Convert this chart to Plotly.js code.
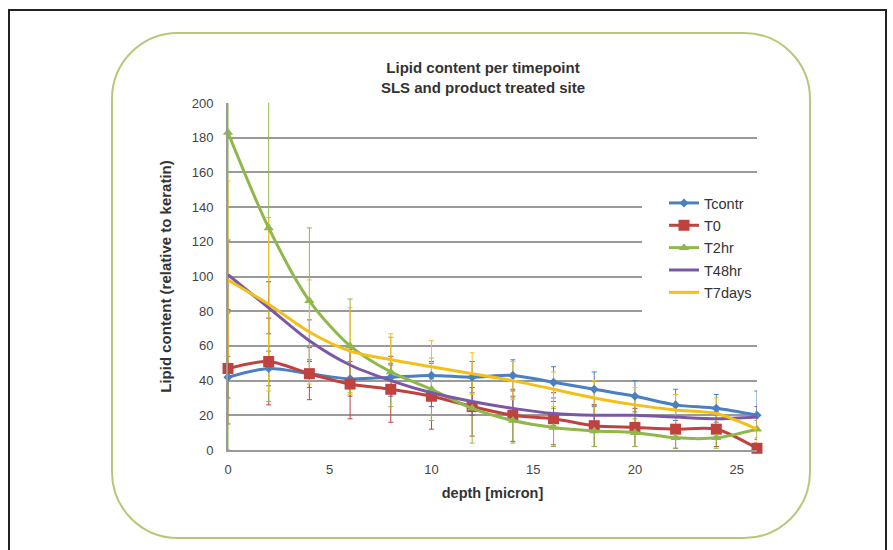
<!DOCTYPE html>
<html><head><meta charset="utf-8">
<script src="https://cdn.plot.ly/plotly-3.0.1.min.js"></script>
<style>html,body{margin:0;padding:0;background:#fff}#chart{width:893px;height:550px}</style>
</head><body><div id="chart"></div>
<script>
// ---- data ----
const depth = [0, 2, 4, 6, 8, 10, 12, 14, 16, 18, 20, 22, 24, 26];
const seriesNames = ['Tcontr', 'T0', 'T2hr', 'T48hr', 'T7days'];
const tcontr    = [42, 47, 44, 41, 42, 43, 42, 43, 39, 35, 31, 26, 24, 20];
const tcontrErr = [12, 10, 8, 10, 8, 8, 9, 9, 9, 10, 9, 9, 8, 14];
const t0        = [47, 51, 44, 38, 35, 31, 25, 20, 18, 14, 13, 12, 12, 1];
const t0Err     = [32, 25, 15, 20, 19, 19, 17, 15, 15, 12, 11, 11, 10, 3];
const t2hr      = [183, 128, 86, 60, 45, 35, 24, 17, 13, 11, 10, 7, 7, 12];
const t2hrErr   = [183, 100, 42, 27, 20, 18, 20, 13, 11, 9, 8, 6, 6, 5];
const t48hr     = [101, 82, 63, 49, 40, 33, 28, 24, 21, 20, 20, 19, 18, 19];
const t48hrErr  = [20, 15, 12, 10, 9, 8, 8, 7, 7, 6, 6, 6, 6, 6];
const t7days    = [98, 84, 68, 57, 52, 48, 44, 40, 35, 30, 26, 23, 21, 12];
const t7daysErr = [57, 50, 30, 25, 15, 15, 12, 11, 10, 10, 10, 9, 9, 10];
const yTicks = [0, 20, 40, 60, 80, 100, 120, 140, 160, 180, 200];
const xTicks = [0, 5, 10, 15, 20, 25];

// ---- styles ----
const FONT = 'Liberation Sans, Arial, sans-serif';
const values = [tcontr, t0, t2hr, t48hr, t7days];
const errs = [tcontrErr, t0Err, t2hrErr, t48hrErr, t7daysErr];
const colors = ['#4a7fc1', '#c0423f', '#8fb84a', '#7a58a6', '#f3c01a'];
const symbols = ['diamond', 'square', 'triangle-up', null, null];
const msizes = [7, 11, 9, 0, 0];

const traces = [];
// error bars (clipped to plot area)
for (let i = 0; i < 5; i++) {
  traces.push({
    x: depth, y: values[i], type: 'scatter', mode: 'markers',
    marker: {color: 'rgba(0,0,0,0)', size: 1},
    error_y: {type: 'data', array: errs[i], visible: true, color: colors[i], thickness: 1, width: 2.5},
    showlegend: false, hoverinfo: 'skip'
  });
}
// lines + markers
for (let i = 0; i < 5; i++) {
  const t = {
    x: depth, y: values[i], type: 'scatter', name: seriesNames[i],
    mode: symbols[i] ? 'lines+markers' : 'lines',
    line: {color: colors[i], width: 3, shape: 'spline', smoothing: 0.8},
    cliponaxis: false, legendgroup: 'g' + i
  };
  if (symbols[i]) t.marker = {symbol: symbols[i], size: msizes[i], color: colors[i]};
  traces.push(t);
}

// pixel -> paper helpers for decorative frames
const L = 228, R = 136, T = 103, B = 100, W = 893, H = 550;
const PW = W - L - R, PH = H - T - B;
const px = v => (v - L) / PW;
const py = v => (H - B - v) / PH;
function roundRect(x0, y0, x1, y1, r) {
  const k = 0.5523 * r;
  const P = (a, b) => px(a).toFixed(5) + ',' + py(b).toFixed(5);
  return 'M' + P(x0 + r, y0) + ' L' + P(x1 - r, y0) +
    ' C' + P(x1 - r + k, y0) + ' ' + P(x1, y0 + r - k) + ' ' + P(x1, y0 + r) +
    ' L' + P(x1, y1 - r) +
    ' C' + P(x1, y1 - r + k) + ' ' + P(x1 - r + k, y1) + ' ' + P(x1 - r, y1) +
    ' L' + P(x0 + r, y1) +
    ' C' + P(x0 + r - k, y1) + ' ' + P(x0, y1 - r + k) + ' ' + P(x0, y1 - r) +
    ' L' + P(x0, y0 + r) +
    ' C' + P(x0, y0 + r - k) + ' ' + P(x0 + r - k, y0) + ' ' + P(x0 + r, y0) + ' Z';
}

const layout = {
  width: W, height: H,
  margin: {l: L, r: R, t: T, b: B},
  paper_bgcolor: '#fff', plot_bgcolor: 'rgba(0,0,0,0)',
  font: {family: FONT, size: 13, color: '#3a3a3a'},
  title: {
    text: '<b>Lipid content per timepoint<br>SLS and product treated site</b>',
    font: {family: FONT, size: 15, color: '#333'},
    x: px(483), xref: 'paper', xanchor: 'center',
    y: 1 - 73 / H, yref: 'container', yanchor: 'top'
  },
  xaxis: {
    range: [0, 26], tickvals: xTicks, ticktext: xTicks.map(String),
    showgrid: false, zeroline: false,
    showline: true, linecolor: '#9a9a9a', linewidth: 2,
    ticks: 'outside', ticklen: 6, tickcolor: 'rgba(0,0,0,0)',
    tickfont: {family: FONT, size: 13, color: '#444'},
    title: {text: '<b>depth [micron]</b>', font: {family: FONT, size: 14.5, color: '#333'}, standoff: 12}
  },
  yaxis: {
    range: [0, 200], tickvals: yTicks, ticktext: yTicks.map(String),
    showgrid: true, gridcolor: '#9a9a9a', gridwidth: 2, zeroline: false,
    showline: true, linecolor: '#9a9a9a', linewidth: 2,
    ticks: 'outside', ticklen: 10, tickcolor: 'rgba(0,0,0,0)',
    tickfont: {family: FONT, size: 13, color: '#444'},
    title: {text: '<b>Lipid content (relative to keratin)</b>', font: {family: FONT, size: 15, color: '#333'}, standoff: 16}
  },
  legend: {
    x: px(664), xanchor: 'left', y: py(187), yanchor: 'top',
    bgcolor: 'rgba(0,0,0,0)', borderwidth: 0,
    font: {family: FONT, size: 14.5, color: '#333'},
    traceorder: 'grouped', tracegroupgap: 0.5, itemwidth: 30
  },
  shapes: [
    {type: 'rect', xref: 'paper', yref: 'paper', x0: px(9), x1: px(886), y0: py(10), y1: py(560),
     line: {color: '#222', width: 2}, fillcolor: 'rgba(0,0,0,0)', layer: 'below'},
    {type: 'path', xref: 'paper', yref: 'paper', path: roundRect(112, 33, 810, 538, 66),
     line: {color: '#b8c878', width: 2}, fillcolor: 'rgba(0,0,0,0)', layer: 'below'},
    // white area behind the legend hiding the gridlines
    {type: 'rect', xref: 'paper', yref: 'paper', x0: px(642), x1: px(762), y0: py(192), y1: py(322),
     line: {width: 0}, fillcolor: '#fff', layer: 'above'}
  ],
  showlegend: true
};

Plotly.newPlot('chart', traces, layout, {displayModeBar: false, staticPlot: true});
</script>
</body></html>
